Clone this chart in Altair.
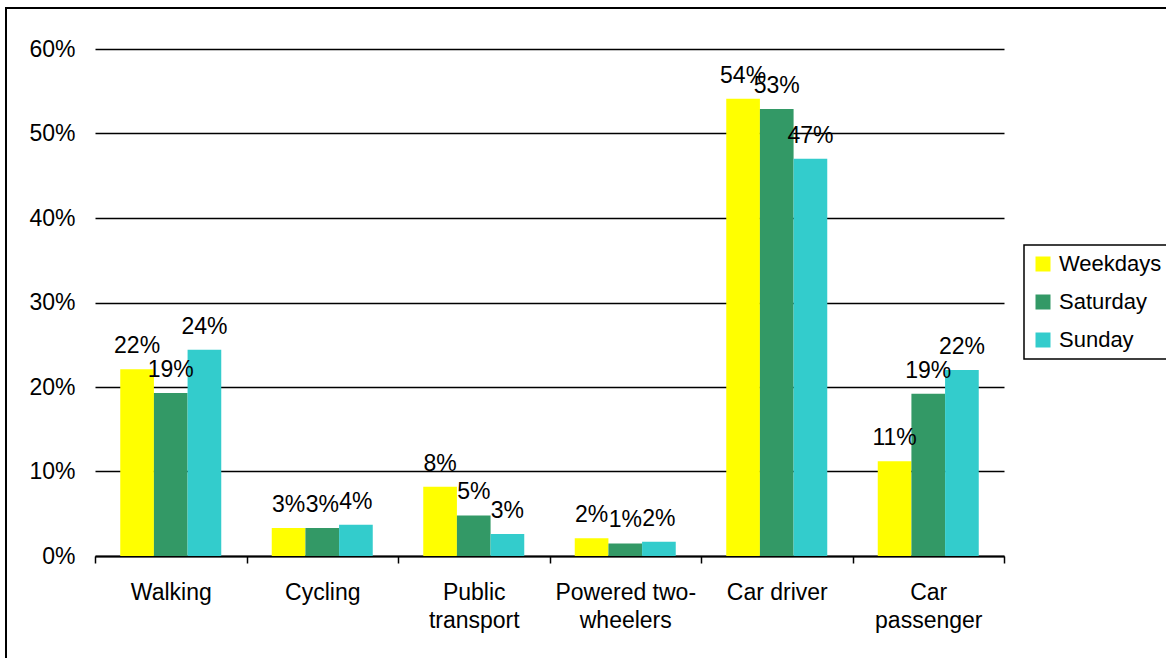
import altair as alt
import pandas as pd

# Share of trips by main mode, for weekdays and weekend days
modes = ["Walking", "Cycling", "Public\ntransport", "Powered two-\nwheelers",
         "Car driver", "Car\npassenger"]
days = ["Weekdays", "Saturday", "Sunday"]
weekdays = [0.221, 0.033, 0.082, 0.021, 0.541, 0.112]
saturday = [0.193, 0.033, 0.048, 0.0148, 0.529, 0.192]
sunday = [0.244, 0.037, 0.026, 0.017, 0.470, 0.220]
colors = ["#FFFF00", "#339966", "#33CCCC"]
y_ticks = [0, 0.1, 0.2, 0.3, 0.4, 0.5, 0.6]

rows = []
for day, series in zip(days, [weekdays, saturday, sunday]):
    for mode, share in zip(modes, series):
        rows.append({"mode": mode, "day": day, "share": share})
df = pd.DataFrame(rows)

FONT = "Liberation Sans"
FS = 23

x_enc = alt.X(
    "mode:N",
    sort=modes,
    title=None,
    scale=alt.Scale(paddingInner=0, paddingOuter=0),
    axis=alt.Axis(
        labelExpr="split(datum.label, '\\n')",
        labelAngle=0,
        labelFontSize=FS,
        labelFont=FONT,
        labelColor="black",
        labelBaseline="top",
        labelPadding=18,
        labelLineHeight=28,
        tickBand="extent",
        tickSize=7,
        tickColor="black",
        tickWidth=1.5,
        domainColor="black",
        domainWidth=2,
        grid=False,
    ),
)

y_enc = alt.Y(
    "share:Q",
    title=None,
    scale=alt.Scale(domain=[0, 0.6], nice=False),
    axis=alt.Axis(
        values=y_ticks,
        format=".0%",
        labelFontSize=FS,
        labelFont=FONT,
        labelColor="black",
        labelPadding=20,
        ticks=False,
        domain=False,
        grid=True,
        gridColor="black",
        gridWidth=1.5,
    ),
)

base = alt.Chart(df).encode(
    x=x_enc,
    xOffset=alt.XOffset(
        "day:N", sort=days, scale=alt.Scale(paddingInner=0, paddingOuter=0.75)
    ),
    y=y_enc,
)

bars = base.mark_bar().encode(
    color=alt.Color(
        "day:N",
        sort=days,
        scale=alt.Scale(domain=days, range=colors),
        legend=alt.Legend(
            title=None,
            orient="none",
            legendX=929,
            legendY=196,
            symbolType="square",
            symbolSize=225,
            symbolStrokeWidth=0,
            labelFontSize=22,
            labelFont=FONT,
            labelColor="black",
            labelOffset=5,
            rowPadding=16,
            padding=8,
            strokeColor="black",
        ),
    )
)

labels = base.mark_text(
    font=FONT, fontSize=FS, color="black", baseline="alphabetic", align="center", dy=-16
).encode(text=alt.Text("share:Q", format=".0%"))

# Border around the whole chart area
frame = alt.Chart(pd.DataFrame({"k": [0]})).mark_rect(
    fill=None, fillOpacity=0, stroke="black", strokeWidth=2
).encode(
    x=alt.value(-89), x2=alt.value(1080), y=alt.value(-41), y2=alt.value(620)
)

chart = alt.layer(bars, labels, frame).properties(
    width=909,
    height=507,
    padding={"left": 95, "top": 49, "right": 162, "bottom": 102},
    autosize=alt.AutoSizeParams(type="none"),
    background="white",
).configure_view(stroke=None).configure_legend(strokeWidth=1.5)

chart.save("out.html", embed_options={"renderer": "svg", "actions": False})
